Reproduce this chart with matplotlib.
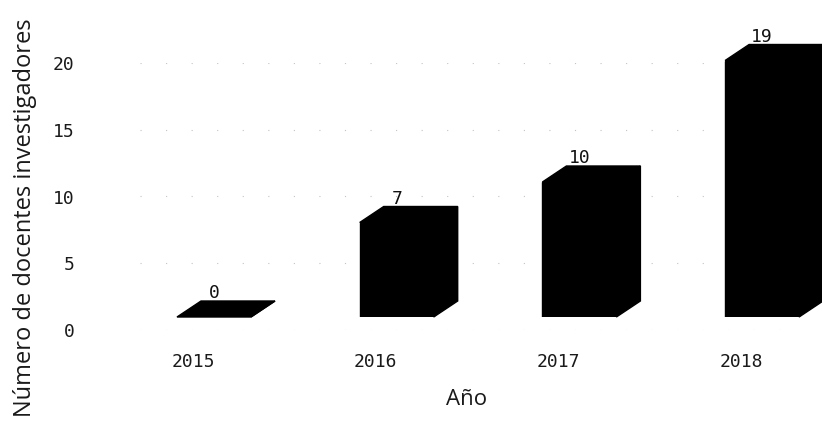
import matplotlib
matplotlib.use("Agg")
import matplotlib.pyplot as plt
from matplotlib.patches import Polygon
from matplotlib.transforms import ScaledTranslation

years = ["2015", "2016", "2017", "2018"]
values = [0, 7, 10, 19]
yticks = [0, 5, 10, 15, 20]
ylabel = "Número de docentes investigadores"
xlabel = "Año"

W, H = 822, 423
fig = plt.figure(figsize=(W / 100, H / 100), dpi=100)


def box(x0, y0, x1, y1):
    return [x0 / W, 1 - y1 / H, (x1 - x0) / W, (y1 - y0) / H]


mono = "DejaVu Sans Mono"

# tick-label / grid axis (back wall)
ax2 = fig.add_axes(box(140, 63, 805, 330))
ax2.set_ylim(0, 20)
ax2.set_xlim(0, 1)
ax2.set_yticks(yticks)
ax2.set_yticklabels([str(t) for t in yticks], fontfamily=mono, fontsize=13, color="#1a1a1a")
ax2.tick_params(axis="y", length=0, pad=47)
ax2.set_xticks([])
ax2.grid(axis="y", color="#c4c4c4", linestyle=(0, (1, 22)), linewidth=0.8)
for s in ax2.spines.values():
    s.set_visible(False)
ax2.patch.set_visible(False)

# bar axis
ax = fig.add_axes(box(140, 0, 822, 317))
px_x = 182.7
px_y = 13.5
ax.set_xlim((140 - 214) / px_x, (822 - 214) / px_x)
ax.set_ylim(0, 317 / px_y)
ax.patch.set_visible(False)
for s in ax.spines.values():
    s.set_visible(False)
ax.set_yticks([])

xs = list(range(len(years)))
bw = 74 / px_x
ddx = 24 / px_x
ddy = 16 / px_y
ax.bar(xs, values, width=bw, color="black", edgecolor="black", linewidth=1.0, zorder=3)
for x, v in zip(xs, values):
    x0, x1 = x - bw / 2, x + bw / 2
    top = Polygon([(x0, v), (x0 + ddx, v + ddy), (x1 + ddx, v + ddy), (x1, v)],
                  closed=True, facecolor="black", edgecolor="black", lw=1.0, zorder=3, clip_on=False)
    side = Polygon([(x1, 0), (x1 + ddx, ddy), (x1 + ddx, v + ddy), (x1, v)],
                   closed=True, facecolor="black", edgecolor="black", lw=1.0, zorder=3, clip_on=False)
    ax.add_patch(top)
    ax.add_patch(side)
    ax.annotate(str(v), xy=(x, v + ddy), xytext=(0, -1), textcoords="offset points",
                ha="center", va="bottom", fontfamily=mono, fontsize=13, color="#111111", zorder=4)

ax.set_xticks(xs)
ax.set_xticklabels(years, fontfamily=mono, fontsize=13, color="#1a1a1a")
ax.tick_params(axis="x", length=0, pad=26)
shift = ScaledTranslation(-21 / 100, 0, fig.dpi_scale_trans)
for lab in ax.get_xticklabels():
    lab.set_transform(lab.get_transform() + shift)

fig.text(467 / W, 1 - 399 / H, xlabel, ha="center", va="center", fontfamily="Open Sans",
         fontsize=16, color="#1a1a1a")
fig.text(25 / W, 1 - 218 / H, ylabel, ha="center", va="center", rotation=90,
         fontfamily="Open Sans", fontsize=17, color="#1a1a1a")

fig.savefig("out.png", dpi=100, facecolor="white")
